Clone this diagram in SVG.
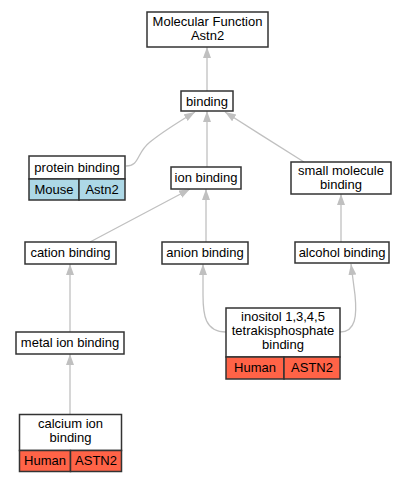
<svg xmlns="http://www.w3.org/2000/svg" width="407" height="483" viewBox="0 0 407 483">
<style>
.box{fill:#fff;stroke:#333;stroke-width:1.5}
.mouse{fill:#add8e6;stroke:#333;stroke-width:1.5}
.human{fill:#ff6347;stroke:#333;stroke-width:1.5}
text{font-family:"Liberation Sans",Arial,sans-serif;font-size:13px;fill:#000;text-anchor:middle}
.edge{fill:none;stroke:#c0c0c0;stroke-width:1.3}
</style>
<defs>
<marker id="ah" markerUnits="userSpaceOnUse" markerWidth="12" markerHeight="10" refX="11" refY="4" orient="auto">
<path d="M0,0 L11,4 L0,8 z" fill="#c0c0c0"/>
</marker>
</defs>
<rect width="407" height="483" fill="#fff"/>
<g id="edges">
<path class="edge" marker-end="url(#ah)" d="M207,91 L207,47"/>
<path class="edge" marker-end="url(#ah)" d="M207,167 L207,111"/>
<path class="edge" marker-end="url(#ah)" d="M126,166 C140,166 136,153 150,142 C165,130 180,121 195,112"/>
<path class="edge" marker-end="url(#ah)" d="M304,162 C280,147 250,128 225,112"/>
<path class="edge" marker-end="url(#ah)" d="M90,242 C120,226 160,205 190,189"/>
<path class="edge" marker-end="url(#ah)" d="M206,242 L206,189"/>
<path class="edge" marker-end="url(#ah)" d="M341,242 L341,194"/>
<path class="edge" marker-end="url(#ah)" d="M70,332 L70,264"/>
<path class="edge" marker-end="url(#ah)" d="M70,414 L70,354"/>
<path class="edge" marker-end="url(#ah)" d="M226,332 C205,332 203,315 203,295 L203,264"/>
<path class="edge" marker-end="url(#ah)" d="M340,332 C356,332 357,315 355,295 L351,264"/>
</g>
<g id="mf">
<rect class="box" x="147" y="12" width="121" height="35"/>
<text x="207.5" y="26">Molecular Function</text>
<text x="207.5" y="40">Astn2</text>
</g>
<g id="binding">
<rect class="box" x="181" y="91" width="52" height="20"/>
<text x="207" y="106">binding</text>
</g>
<g id="protein_binding">
<rect class="box" x="29" y="156" width="96" height="23"/>
<rect class="mouse" x="29" y="179" width="50" height="21"/>
<rect class="mouse" x="79" y="179" width="46" height="21"/>
<text x="77" y="172">protein binding</text>
<text x="54" y="194">Mouse</text>
<text x="102" y="194">Astn2</text>
</g>
<g id="ion_binding">
<rect class="box" x="171" y="167" width="70" height="22"/>
<text x="206" y="182">ion binding</text>
</g>
<g id="small_molecule_binding">
<rect class="box" x="291" y="162" width="100" height="32"/>
<text x="341" y="175">small molecule</text>
<text x="341" y="189">binding</text>
</g>
<g id="cation_binding">
<rect class="box" x="25" y="242" width="91" height="22"/>
<text x="70.5" y="257">cation binding</text>
</g>
<g id="anion_binding">
<rect class="box" x="162" y="242" width="86" height="22"/>
<text x="205" y="257">anion binding</text>
</g>
<g id="alcohol_binding">
<rect class="box" x="295" y="242" width="94" height="21"/>
<text x="342" y="257">alcohol binding</text>
</g>
<g id="metal_ion_binding">
<rect class="box" x="16" y="332" width="108" height="22"/>
<text x="70" y="347">metal ion binding</text>
</g>
<g id="inositol">
<rect class="box" x="226" y="308" width="114" height="49"/>
<rect class="human" x="226" y="357" width="58" height="22"/>
<rect class="human" x="284" y="357" width="56" height="22"/>
<text x="283" y="321">inositol 1,3,4,5</text>
<text x="283" y="335">tetrakisphosphate</text>
<text x="283" y="349">binding</text>
<text x="255" y="372">Human</text>
<text x="312" y="372">ASTN2</text>
</g>
<g id="calcium_ion_binding">
<rect class="box" x="19.5" y="414.5" width="102" height="36"/>
<rect class="human" x="19.5" y="450.5" width="51" height="21"/>
<rect class="human" x="70.5" y="450.5" width="51" height="21"/>
<text x="70.5" y="428">calcium ion</text>
<text x="70.5" y="442">binding</text>
<text x="45" y="465">Human</text>
<text x="96" y="465">ASTN2</text>
</g>
</svg>
